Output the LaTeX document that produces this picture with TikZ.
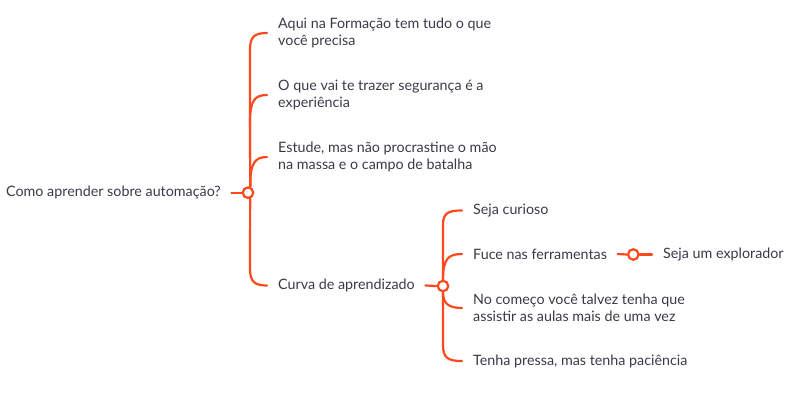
\documentclass[tikz,border=0pt]{standalone}
\usepackage{fontspec}
\setmainfont{Lato}
\usetikzlibrary{backgrounds}
\definecolor{br}{RGB}{255,72,28}
\definecolor{txt}{HTML}{3A3A46}
\tikzset{
  lbl/.style={font=\fontsize{14.3}{17}\selectfont, text=txt, inner sep=0pt, align=left},
  circ/.style={circle, draw=br, fill=white, line width=2.2pt, minimum size=10.5pt, inner sep=0pt},
  branch/.style={draw=br, line width=2.2pt, line cap=round}
}
\begin{document}
\begin{tikzpicture}[x=1pt,y=-1pt]
\useasboundingbox (0,0) rectangle (797,405);
% nodes
\node[lbl, anchor=east] (root) at (221,192.7) {Como aprender sobre automação?};
\node[circ] (rc) at (248,192.7) {};
\node[lbl, anchor=west] (a) at (278,33) {Aqui na Formação tem tudo o que\\você precisa};
\node[lbl, anchor=west] (b) at (278,95) {O que vai te trazer segurança é a\\experiência};
\node[lbl, anchor=west] (c) at (278,157) {Estude, mas não procrastine o mão\\na massa e o campo de batalha};
\node[lbl, anchor=west] (d) at (278,285.5) {Curva de aprendizado};
\node[circ] (rc2) at (443,286) {};
\node[lbl, anchor=west] (e) at (473,210.5) {Seja curioso};
\node[lbl, anchor=west] (f) at (473,254) {Fuce nas ferramentas};
\node[circ] (rc3) at (633.3,254.5) {};
\node[lbl, anchor=west] (h) at (663,254.5) {Seja um explorador};
\node[lbl, anchor=west] (g) at (473,308) {No começo você talvez tenha que\\assistir as aulas mais de uma vez};
\node[lbl, anchor=west] (t) at (473,361) {Tenha pressa, mas tenha paciência};
\coordinate (ae) at ([xshift=-11pt]a.west);
\coordinate (be) at ([xshift=-11pt]b.west);
\coordinate (ce) at ([xshift=-11pt]c.west);
\coordinate (de) at ([xshift=-11pt]d.west);
\coordinate (ee) at ([xshift=-11pt]e.west);
\coordinate (fe) at ([xshift=-11pt]f.west);
\coordinate (ge) at ([xshift=-11pt]g.west);
\coordinate (te) at ([xshift=-11pt]t.west);
\begin{scope}[on background layer]
\draw[branch] ([xshift=10.5pt]root.east) -- (rc.west);
\draw[branch] (rc.70) -- (250,50) .. controls (250,37) and (254,33) .. (ae);
\draw[branch] (rc.70) -- (250,122) .. controls (250,100) and (255,95) .. (be);
\draw[branch] (rc.70) .. controls (250,163) and (255,157) .. (ce);
\draw[branch] (rc.-70) -- (250,269) .. controls (250,282) and (255,285.5) .. (de);
\draw[branch] ([xshift=10.5pt]d.east) -- (rc2.west);
\draw[branch] (rc2.north) -- (443,225) .. controls (443,213) and (448,210.5) .. (ee);
\draw[branch] (rc2.north) .. controls (443,259) and (448,254) .. (fe);
\draw[branch] (rc2.south) .. controls (443,303) and (448,308) .. (ge);
\draw[branch] (rc2.south) -- (443,345) .. controls (443,358) and (448,361) .. (te);
\draw[branch] ([xshift=10.5pt]f.east) -- (rc3.west);
\draw[branch] (rc3.east) -- ([xshift=-11pt]h.west);
\end{scope}
\end{tikzpicture}
\end{document}
